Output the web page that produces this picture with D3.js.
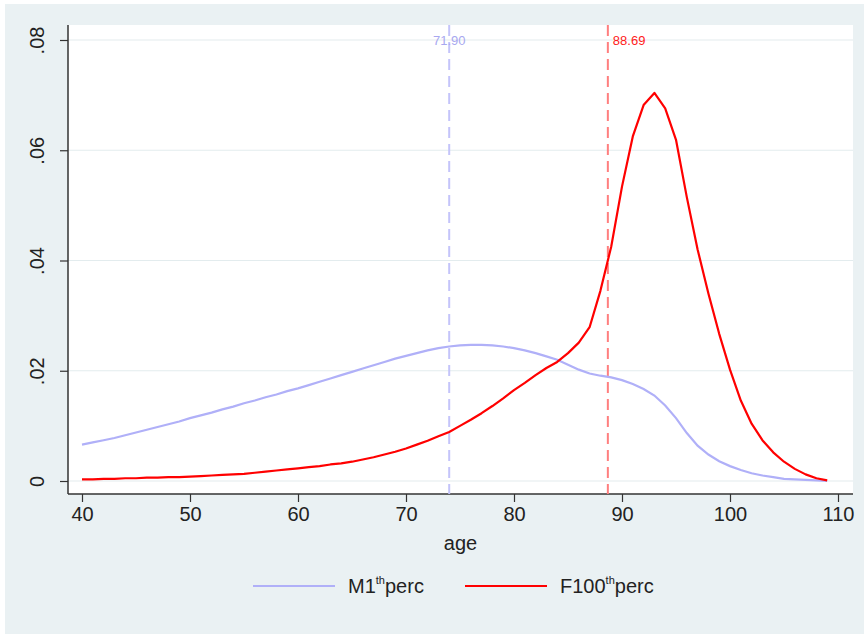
<!DOCTYPE html>
<html>
<head>
<meta charset="utf-8">
<script src="https://cdn.jsdelivr.net/npm/d3@7"></script>
<style>
  body { margin: 0; background: #ffffff; }
  text { font-family: "Liberation Sans", Arial, sans-serif; }
</style>
</head>
<body>
<div id="chart"></div>
<script>
// Colour codes.
const outerColor = "#eaf1f3";
const gridColor = "#e3ecee";
const axisColor = "#333333";
const blueColor = "#b0b0f8";
const redColor = "#ff0000";

// Data: density by age for the two groups.
const ages = d3.range(40, 110);
const m1 = [
  .0066, .0070, .0074, .0078, .0083, .0088, .0093, .0098, .0103, .0108,
  .0114, .0119, .0124, .0130, .0135, .0141, .0146, .0152, .0157, .0163,
  .0168, .0174, .0180, .0186, .0192, .0198, .0204, .0210, .0216, .0222,
  .0227, .0232, .0237, .0241, .0244, .0246, .0247, .0247, .0246, .0244,
  .0241, .0237, .0232, .0226, .0220, .0211, .0202, .0195, .0191, .0188,
  .0183, .0176, .0167, .0155, .0137, .0114, .0087, .0064, .0048, .0036,
  .0027, .0020, .0014, .0010, .0007, .0004, .0003, .0002, .0001, .0000
];
const f100 = [
  .0003, .0003, .0004, .0004, .0005, .0005, .0006, .0006, .0007, .0007,
  .0008, .0009, .0010, .0011, .0012, .0013, .0015, .0017, .0019, .0021,
  .0023, .0025, .0027, .0030, .0032, .0035, .0039, .0043, .0048, .0053,
  .0059, .0066, .0073, .0081, .0089, .0100, .0111, .0123, .0136, .0150,
  .0165, .0178, .0192, .0205, .0216, .0232, .0251, .0279, .0345, .0425,
  .0534, .0625, .0682, .0704, .0676, .0619, .0515, .0420, .0340, .0267,
  .0202, .0146, .0104, .0074, .0052, .0035, .0022, .0012, .0005, .0001
];
const xTicks = [40, 50, 60, 70, 80, 90, 100, 110];
const yTicks = [0, .02, .04, .06, .08];
const refLines = [
  {x: 74, label: "71.90", color: "#c4c4fa", textColor: "#a8a8f0", anchor: "middle"},
  {x: 88.69, label: "88.69", color: "#ff7f7f", textColor: "#ff2020", anchor: "start"}
];

const W = 864, H = 634;
const plot = {left: 68, top: 25, right: 853, bottom: 494};

const svg = d3.select("#chart")
  .append("svg")
    .attr("width", W)
    .attr("height", H);

// Outer background and plot region.
svg.append("rect")
  .attr("x", 5).attr("y", 4)
  .attr("width", W - 5).attr("height", H - 4)
  .attr("fill", outerColor);

svg.append("rect")
  .attr("x", plot.left).attr("y", plot.top)
  .attr("width", plot.right - plot.left).attr("height", plot.bottom - plot.top)
  .attr("fill", "#ffffff");

var x = d3.scaleLinear().domain([40, 110]).range([82, 838]);
var y = d3.scaleLinear().domain([0, .08]).range([481, 40]);

// Gridlines.
svg.append("g")
  .selectAll("line")
  .data(yTicks)
  .join("line")
    .attr("x1", plot.left).attr("x2", plot.right)
    .attr("y1", d => y(d)).attr("y2", d => y(d))
    .attr("stroke", gridColor)
    .attr("stroke-width", 1.2);

// Y axis.
const yAxis = svg.append("g")
  .attr("transform", "translate(" + plot.left + ",0)")
  .call(d3.axisLeft(y).tickValues(yTicks).tickSize(8).tickPadding(6)
    .tickFormat(d => d === 0 ? "0" : d3.format(".2f")(d).replace(/^0/, "")));
yAxis.select(".domain").attr("d", "M0," + plot.top + "V" + plot.bottom)
  .attr("stroke", axisColor).attr("stroke-width", 1.5);
yAxis.selectAll(".tick line").attr("stroke", axisColor).attr("stroke-width", 1.2);
yAxis.selectAll(".tick text")
  .attr("font-size", 20)
  .attr("fill", "#222")
  .attr("x", 0).attr("dy", 0)
  .attr("text-anchor", "middle")
  .attr("transform", "translate(-24,0) rotate(-90)");

// X axis.
const xAxis = svg.append("g")
  .attr("transform", "translate(0," + plot.bottom + ")")
  .call(d3.axisBottom(x).tickValues(xTicks).tickSize(8).tickPadding(5));
xAxis.select(".domain").attr("d", "M" + plot.left + ",0H" + plot.right)
  .attr("stroke", axisColor).attr("stroke-width", 1.5);
xAxis.selectAll(".tick line").attr("stroke", axisColor).attr("stroke-width", 1.2);
xAxis.selectAll(".tick text").attr("font-size", 20).attr("fill", "#222");

// Axis title.
svg.append("text")
  .attr("x", (plot.left + plot.right) / 2)
  .attr("y", 550)
  .attr("text-anchor", "middle")
  .attr("font-size", 20)
  .attr("fill", "#222")
  .text("age");

// Reference lines.
refLines.forEach(function(r) {
  svg.append("line")
    .attr("x1", x(r.x)).attr("x2", x(r.x))
    .attr("y1", plot.top).attr("y2", plot.bottom)
    .attr("stroke", r.color)
    .attr("stroke-width", 2)
    .attr("stroke-dasharray", "11,6");
  svg.append("text")
    .attr("x", r.anchor === "start" ? x(r.x) + 5 : x(r.x))
    .attr("y", y(.08) + 5)
    .attr("text-anchor", r.anchor)
    .attr("font-size", 13)
    .attr("fill", r.textColor)
    .text(r.label);
});

// The lines.
const line = values => d3.line()
  .x((d, i) => x(ages[i]))
  .y(d => y(d))(values);

svg.append("path")
  .attr("d", line(m1))
  .attr("fill", "none")
  .attr("stroke", blueColor)
  .attr("stroke-width", 2.2);

svg.append("path")
  .attr("d", line(f100))
  .attr("fill", "none")
  .attr("stroke", redColor)
  .attr("stroke-width", 2.2)
  .attr("stroke-linejoin", "round");

// Legend.
const legend = [
  {x1: 253, x2: 335, tx: 348, name: "M1", color: blueColor},
  {x1: 465, x2: 547, tx: 560, name: "F100", color: redColor}
];
legend.forEach(function(l) {
  svg.append("line")
    .attr("x1", l.x1).attr("x2", l.x2)
    .attr("y1", 586).attr("y2", 586)
    .attr("stroke", l.color)
    .attr("stroke-width", 2.2);
  const t = svg.append("text")
    .attr("x", l.tx).attr("y", 593)
    .attr("font-size", 20)
    .attr("fill", "#222");
  t.append("tspan").text(l.name);
  t.append("tspan").attr("font-size", 11).attr("dy", -9).text("th");
  t.append("tspan").attr("dy", 9).text("perc");
});
</script>
</body>
</html>
